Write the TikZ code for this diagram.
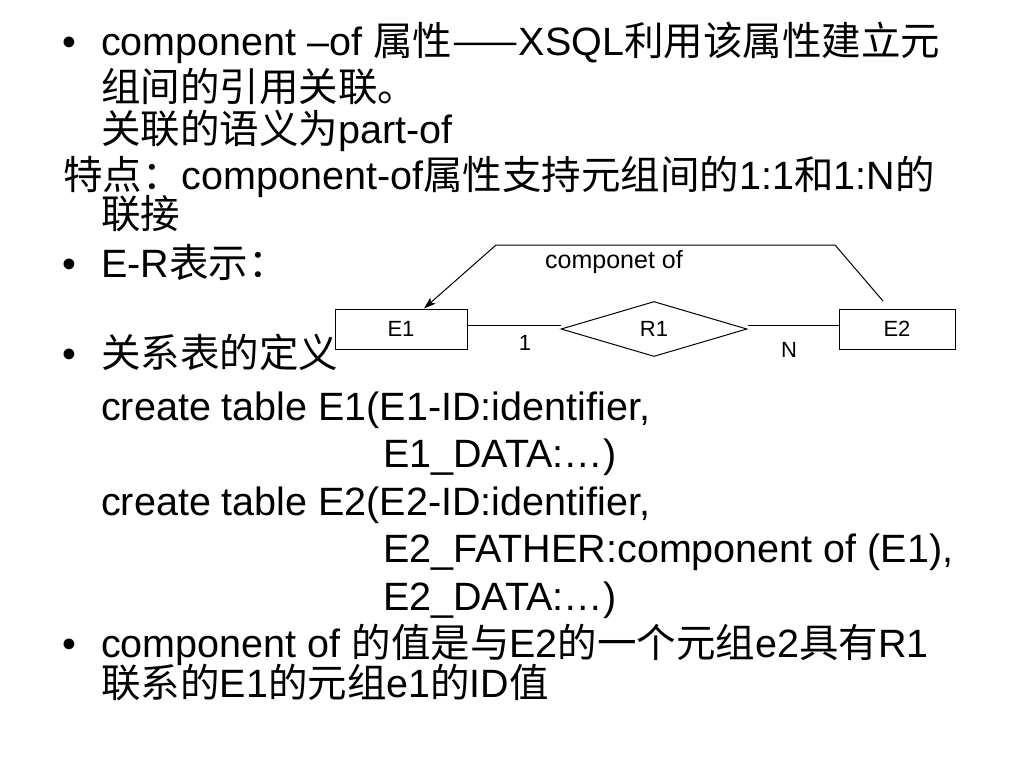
\documentclass[tikz,border=0pt]{standalone}
\usepackage{fontspec}
\setmainfont{Liberation Sans}
\newfontfamily\cjk{Noto Sans CJK SC}
\newcommand{\zh}[1]{{\cjk #1}}
\newcommand{\bodysize}{\fontsize{39.5pt}{44pt}\selectfont}
\newcommand{\ersize}{\fontsize{22pt}{24pt}\selectfont}
\usetikzlibrary{shapes.geometric, arrows.meta, positioning}

\begin{document}
\begin{tikzpicture}[x=1pt, y=-1pt,
    textline/.style={anchor=base west, inner sep=0pt, text depth=0pt, font=\bodysize},
    entity/.style={rectangle, draw, line width=1pt, minimum height=40pt, inner sep=0pt, font=\ersize},
    relation/.style={diamond, draw, line width=1pt, minimum width=186pt, minimum height=55pt, aspect=3.4, inner sep=0pt, font=\ersize},
    erlabel/.style={inner sep=0pt, font=\ersize}]
\useasboundingbox[fill=white] (0,0) rectangle (1024,768);

% bullet text
\node[textline] (b1) at (62,56) {\textbullet};
\node[textline] (l1) at (101,56) {component –of \zh{属性——}XSQL\zh{利用该属性建立元}};
\node[textline] (l2) at (101,101) {\zh{组间的引用关联。}};
\node[textline] (l3) at (101,143) {\zh{关联的语义为}part-of};
\node[textline] (l4) at (63,189) {\zh{特点：}component-of\zh{属性支持元组间的}1:1\zh{和}1:N\zh{的}};
\node[textline] (l5) at (101,228) {\zh{联接}};
\node[textline] (b2) at (62,277) {\textbullet};
\node[textline] (l6) at (101,277) {E-R\zh{表示：}};
\node[textline] (b3) at (62,367) {\textbullet};
\node[textline] (l7) at (101,367) {\zh{关系表的定义}};
\node[textline] (l8) at (101,420) {create table E1(E1-ID:identifier,};
\node[textline] (l9) at (383,467) {E1\_DATA:…)};
\node[textline] (l10) at (101,515) {create table E2(E2-ID:identifier,};
\node[textline] (l11) at (383,562) {E2\_FATHER:component of (E1),};
\node[textline] (l12) at (383,610) {E2\_DATA:…)};
\node[textline] (b4) at (62,657) {\textbullet};
\node[textline] (l13) at (101,657) {component of \zh{的值是与}E2\zh{的一个元组}e2\zh{具有}R1};
\node[textline] (l14) at (101,697) {\zh{联系的}E1\zh{的元组}e1\zh{的}ID\zh{值}};

% E-R diagram
\node[entity, minimum width=132pt] (E1) at (401,329) {E1};
\node[relation] (R1) at (654,329) {R1};
\node[entity, minimum width=116pt] (E2) at (897,329) {E2};
\node[erlabel] (one) at (525,343) {1};
\node[erlabel] (many) at (789,350) {N};
\node[erlabel, font=\fontsize{25pt}{27pt}\selectfont] (compof) at (614,262) {componet of};
\draw[line width=1pt] ([yshift=4pt]E1.east) -- ([yshift=4pt]R1.west);
\draw[line width=1pt] ([yshift=4pt]R1.east) -- ([yshift=4pt]E2.west);

% component-of arrow
\coordinate (cstart) at (883,301);
\coordinate (cright) at (835,245);
\coordinate (cleft) at (496,245);
\draw[-{Stealth[length=12pt, width=8pt, inset=3pt]}, line width=1pt] (cstart) -- (cright) -- (cleft) -- ([xshift=23pt]E1.north);
\end{tikzpicture}
\end{document}
